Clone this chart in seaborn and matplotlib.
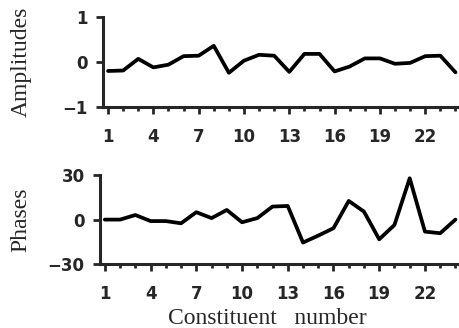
import numpy as np
import pandas as pd
import matplotlib
matplotlib.use("Agg")
import matplotlib.pyplot as plt
import seaborn as sns
from matplotlib.ticker import MultipleLocator

# Constituent numbers and values
constituents = list(range(1, 25))
amplitudes = [-0.20, -0.19, 0.07, -0.12, -0.06, 0.13, 0.14, 0.36, -0.24, 0.03, 0.16, 0.14,
              -0.22, 0.18, 0.18, -0.21, -0.10, 0.08, 0.08, -0.04, -0.02, 0.13, 0.14, -0.23]
phases = [0.0, 0.0, 3.1, -1.0, -1.0, -2.5, 5.0, 1.0, 6.5, -1.8, 1.0, 8.8,
          9.2, -15.5, -10.8, -5.8, 12.6, 5.4, -13.3, -3.6, 27.9, -8.1, -9.2, 0.0]
xtick_labels = [1, 4, 7, 10, 13, 16, 19, 22]

df = pd.DataFrame({"constituent": constituents, "amplitude": amplitudes, "phase": phases})

sns.set_style("ticks")
plt.rcParams["font.family"] = ["DejaVu Sans"]

fig = plt.figure(figsize=(4.6, 3.28), dpi=100)
ax1 = fig.add_axes([0.224, 0.674, 0.776, 0.274])
ax2 = fig.add_axes([0.217, 0.195, 0.783, 0.271])

line_kw = dict(color="black", lw=2.7, solid_joinstyle="round", solid_capstyle="round")
sns.lineplot(data=df, x="constituent", y="amplitude", ax=ax1, **line_kw)
sns.lineplot(data=df, x="constituent", y="phase", ax=ax2, **line_kw)

label_font = dict(family="Liberation Serif", size=17)

for ax, ylim, yt, ylab in [(ax1, (-1, 1), [-1, 0, 1], "Amplitudes"),
                           (ax2, (-30, 30), [-30, 0, 30], "Phases")]:
    ax.set_xlim(0.67, 24.3)
    ax.set_ylim(*ylim)
    ax.set_yticks(yt)
    ax.set_yticklabels(["\u2212" + str(abs(v)) if v < 0 else str(v) for v in yt],
                       fontweight="bold", fontsize=12)
    ax.set_xticks(xtick_labels)
    ax.set_xticklabels([str(v) for v in xtick_labels], fontweight="bold", fontsize=12)
    ax.xaxis.set_minor_locator(MultipleLocator(1))
    ax.tick_params(axis="x", which="major", length=5, width=2, pad=10)
    ax.tick_params(axis="x", which="minor", length=3, width=2)
    ax.tick_params(axis="y", length=5, width=2, pad=6)
    for side in ["top", "right"]:
        ax.spines[side].set_visible(False)
    for side in ["left", "bottom"]:
        ax.spines[side].set_linewidth(2.2)
    ax.set_ylabel(ylab, fontdict=label_font)
    ax.set_xlabel("")

ax1.yaxis.set_label_coords(-0.2, 0.5)
ax2.yaxis.set_label_coords(-0.19, 0.5)
ax2.set_xlabel("Constituent   number", fontdict=label_font)
ax2.xaxis.set_label_coords(0.464, -0.49)

fig.savefig("out.png", dpi=100)
